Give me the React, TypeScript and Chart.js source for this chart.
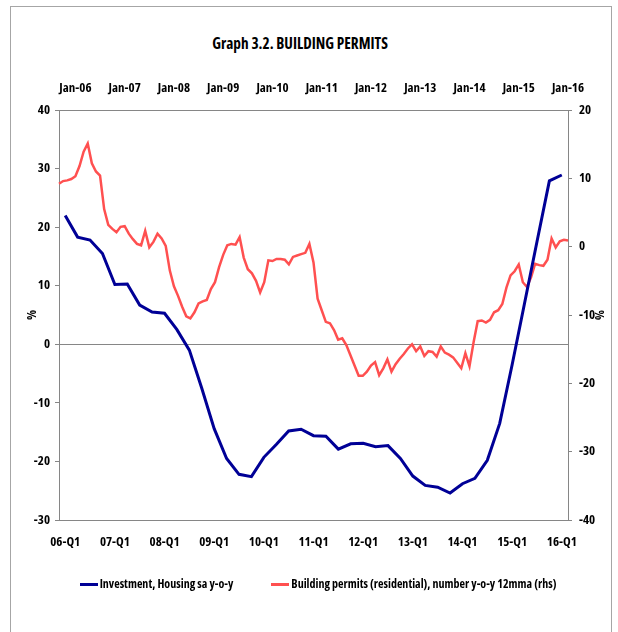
import React, { useEffect, useRef } from "react";
import { Chart, registerables } from "chart.js";

Chart.register(...registerables);

const FONT = "'Open Sans', 'Liberation Sans', sans-serif";
const FONT_WEIGHT = "bold condensed";

const TITLE = "Graph 3.2. BUILDING PERMITS";
const SERIES_NAMES = [
  "Investment, Housing sa y-o-y",
  "Building permits (residential), number y-o-y 12mma (rhs)",
];

const QUARTER_YEARS = ["06", "07", "08", "09", "10", "11", "12", "13", "14", "15", "16"];
const QUARTERS: string[] = [];
QUARTER_YEARS.forEach((y) => {
  ["Q1", "Q2", "Q3", "Q4"].forEach((q) => {
    if (y === "16" && q !== "Q1") return;
    QUARTERS.push(y + "-" + q);
  });
});

const MONTH_NAMES = ["Jan", "Feb", "Mar", "Apr", "May", "Jun", "Jul", "Aug", "Sep", "Oct", "Nov", "Dec"];
const MONTH_YEARS = ["05", "06", "07", "08", "09", "10", "11", "12", "13", "14", "15", "16"];
const MONTHS: string[] = [];
MONTH_YEARS.forEach((y, yi) => {
  MONTH_NAMES.forEach((m, mi) => {
    if (yi === 0 && mi < 8) return;
    if (y === "16" && mi > 0) return;
    MONTHS.push(m + "-" + y);
  });
});

const INVESTMENT = [
  22.0, 18.3, 17.8, 15.5, 10.2, 10.3, 6.7, 5.5, 5.3, 2.5,
  -1.0, -7.5, -14.4, -19.5, -22.2, -22.6, -19.3, -17.1, -14.8, -14.5,
  -15.6, -15.7, -17.9, -17.0, -16.9, -17.5, -17.3, -19.5, -22.5, -24.1,
  -24.4, -25.4, -23.8, -22.9, -19.8, -13.5, -3.5, 7.0, 17.5, 27.9,
  28.9,
];

const PERMITS = [
  9.2, 9.6, 9.7, 9.9, 10.3, 11.8, 13.9, 15.1, 12.2, 11.0,
  10.4, 5.5, 3.2, 2.6, 2.1, 2.9, 3.0, 1.9, 1.1, 0.4,
  0.2, 2.3, -0.1, 0.7, 1.9, 1.2, 0.1, -3.5, -5.8, -7.2,
  -8.8, -10.2, -10.5, -9.6, -8.3, -8.0, -7.8, -6.2, -5.2, -3.0,
  -1.2, 0.2, 0.4, 0.3, 1.4, -1.6, -3.3, -3.9, -5.0, -6.7,
  -5.2, -2.0, -2.1, -1.8, -1.8, -1.9, -2.6, -1.5, -1.3, -1.1,
  -0.9, 0.4, -2.3, -7.6, -9.3, -11.0, -11.2, -12.2, -13.6, -13.4,
  -14.4, -15.9, -17.4, -18.9, -18.9, -18.3, -17.4, -16.9, -18.8, -17.8,
  -16.5, -18.3, -17.2, -16.4, -15.7, -14.9, -14.3, -15.3, -14.6, -16.0,
  -15.3, -15.4, -16.1, -14.6, -15.5, -15.8, -16.2, -17.0, -17.8, -15.6,
  -17.5, -14.0, -10.9, -10.8, -11.1, -10.7, -9.6, -9.3, -8.4, -6.0,
  -4.2, -3.6, -2.6, -5.2, -5.9, -4.5, -2.5, -2.7, -2.8, -1.9,
  1.2, -0.1, 0.8, 1.0, 0.9,
];

const LEFT_MIN = -30;
const LEFT_MAX = 40;
const RIGHT_MIN = -40;
const RIGHT_MAX = 20;
const STEP = 10;

const BLUE = "rgb(0,0,150)";
const RED = "rgb(255,80,80)";
const AXIS_GRAY = "#868686";
const SERIES_COLORS = [BLUE, RED];

export default function App() {
  const ref = useRef<HTMLCanvasElement | null>(null);

  useEffect(() => {
    if (!ref.current) return;
    const tickFont = { family: FONT, size: 13, weight: FONT_WEIGHT as any };
    const chart = new Chart(ref.current, {
      type: "line",
      data: {
        labels: QUARTERS,
        datasets: [
          {
            label: SERIES_NAMES[0],
            data: INVESTMENT,
            borderColor: BLUE,
            backgroundColor: BLUE,
            borderWidth: 3,
            pointRadius: 0,
            tension: 0,
            xAxisID: "x",
            yAxisID: "y",
          },
          {
            label: SERIES_NAMES[1],
            data: PERMITS.map((v, i) => ({ x: MONTHS[i], y: v })),
            borderColor: RED,
            backgroundColor: RED,
            borderWidth: 2.5,
            pointRadius: 0,
            tension: 0,
            xAxisID: "x2",
            yAxisID: "y2",
          },
        ],
      },
      options: {
        animation: false,
        responsive: false,
        maintainAspectRatio: false,
        layout: { padding: { left: 20, right: 7, top: 52, bottom: 76 } },
        plugins: {
          title: { display: false },
          tooltip: { enabled: false },
          legend: { display: false },
        },
        scales: {
          x: {
            type: "category",
            position: "bottom",
            offset: true,
            labels: QUARTERS,
            grid: { display: false, drawTicks: false },
            border: { display: true, color: AXIS_GRAY, width: 1 },
            ticks: {
              autoSkip: false,
              maxRotation: 0,
              minRotation: 0,
              padding: 14,
              color: "#000",
              font: tickFont,
              callback: function (this: any, value: any) {
                const l = this.getLabelForValue(value) as string;
                return l.endsWith("Q1") ? l : "";
              },
            },
            afterFit: (s: any) => {
              s.height = 36;
            },
          },
          x2: {
            type: "category",
            position: "top",
            offset: false,
            labels: MONTHS,
            grid: { display: false, drawTicks: false },
            border: { display: true, color: AXIS_GRAY, width: 1 },
            ticks: {
              autoSkip: false,
              maxRotation: 0,
              minRotation: 0,
              padding: 14,
              color: "#000",
              font: tickFont,
              callback: function (this: any, value: any) {
                const l = this.getLabelForValue(value) as string;
                return l.startsWith("Jan") ? l : "";
              },
            },
            afterFit: (s: any) => {
              s.height = 58;
            },
          },
          y: {
            type: "linear",
            position: "left",
            min: LEFT_MIN,
            max: LEFT_MAX,
            ticks: { stepSize: STEP, padding: 5, color: "#000", font: tickFont },
            grid: {
              drawOnChartArea: true,
              drawTicks: true,
              tickLength: 4,
              tickColor: AXIS_GRAY,
              color: (ctx: any) => (ctx.tick && ctx.tick.value === 0 ? AXIS_GRAY : "rgba(0,0,0,0)"),
            },
            border: { display: true, color: AXIS_GRAY, width: 1 },
            title: { display: true, text: "%", color: "#000", font: tickFont, padding: { top: 4, bottom: 4 } },
            afterFit: (s: any) => {
              s.width = 39;
            },
          },
          y2: {
            type: "linear",
            position: "right",
            min: RIGHT_MIN,
            max: RIGHT_MAX,
            ticks: { stepSize: STEP, padding: 7, color: "#000", font: tickFont },
            grid: {
              drawOnChartArea: false,
              drawTicks: true,
              tickLength: 4,
              tickColor: AXIS_GRAY,
            },
            border: { display: true, color: AXIS_GRAY, width: 1 },
            title: { display: true, text: "%", color: "#000", font: tickFont, padding: { top: 4, bottom: 1 } },
            afterFit: (s: any) => {
              s.width = 43;
            },
          },
        },
      },
    });
    return () => chart.destroy();
  }, []);

  const textStyle: React.CSSProperties = {
    fontFamily: FONT,
    fontWeight: "bold",
    fontStretch: "condensed",
    color: "#000",
  };

  return (
    <div style={{ position: "fixed", left: 0, top: 0, width: 618, height: 632, overflow: "hidden", background: "#fff" }}>
      <div
        style={{
          position: "absolute",
          left: 10,
          top: 6,
          width: 602,
          height: 700,
          boxSizing: "border-box",
          border: "1px solid #a6a6a6",
        }}
      />
      <div
        style={{
          ...textStyle,
          position: "absolute",
          left: 0,
          width: 600,
          top: 32,
          textAlign: "center",
          fontSize: 15.3,
          lineHeight: "22px",
        }}
      >
        {TITLE}
      </div>
      <canvas ref={ref} width={618} height={632} style={{ position: "absolute", left: 0, top: 0, width: 618, height: 632 }} />
      <div
        style={{
          position: "absolute",
          left: 0,
          width: 636,
          top: 575,
          height: 18,
          display: "flex",
          justifyContent: "center",
          alignItems: "center",
          gap: 38,
        }}
      >
        {SERIES_NAMES.map((name, i) => (
          <div key={name} style={{ display: "flex", alignItems: "center" }}>
            <span style={{ display: "inline-block", width: 18, height: 3, background: SERIES_COLORS[i], marginRight: 2 }} />
            <span style={{ ...textStyle, fontSize: 12, lineHeight: "18px", whiteSpace: "nowrap" }}>{name}</span>
          </div>
        ))}
      </div>
    </div>
  );
}
